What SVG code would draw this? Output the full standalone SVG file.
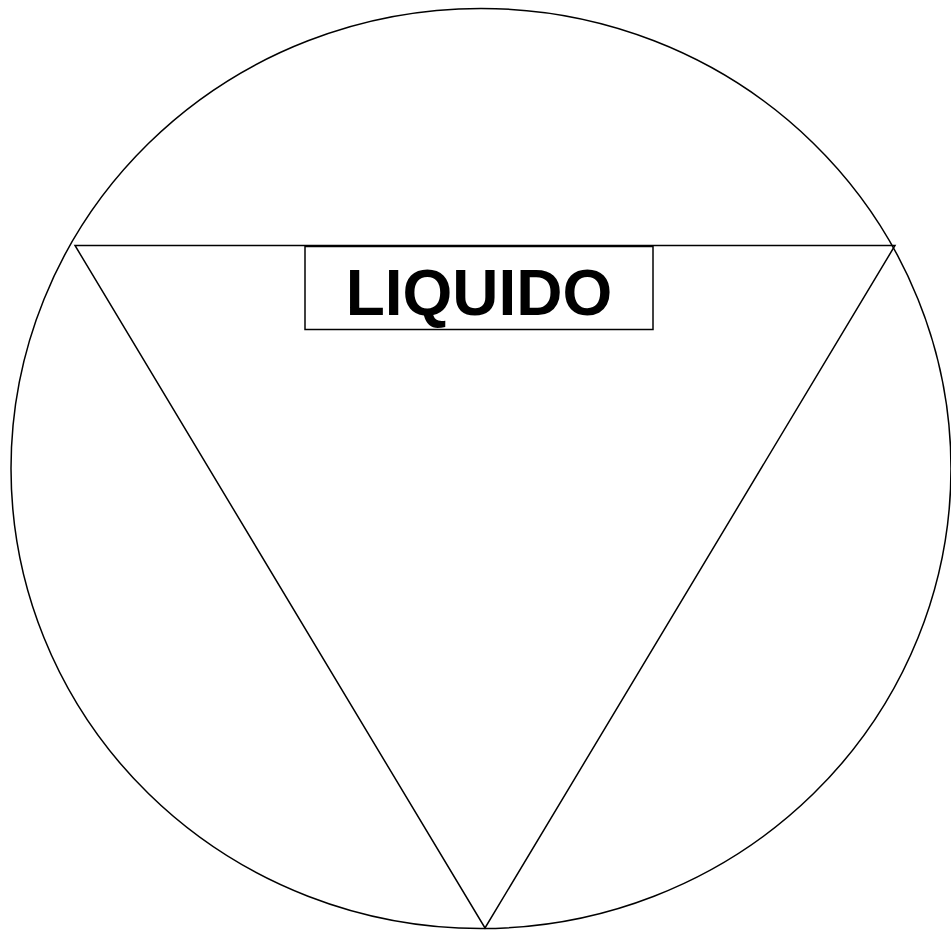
<svg xmlns="http://www.w3.org/2000/svg" width="951" height="931" viewBox="0 0 951 931">
<style>
.s{fill:none;stroke:#000;stroke-width:1.5}
.t{font-family:"Liberation Sans",Arial,sans-serif;font-weight:bold;font-size:64px;fill:#000}
</style>
<rect width="951" height="931" fill="#fff"/>
<g id="circle"><ellipse class="s" cx="481" cy="468.5" rx="470" ry="460"/></g>
<g id="triangle"><polygon class="s" points="75,245.5 895,245.5 485,928"/></g>
<g id="label">
<rect x="305" y="246.5" width="348" height="83" fill="#fff" stroke="#000" stroke-width="1.5"/>
<text class="t" x="479" y="315" text-anchor="middle">LIQUIDO</text>
</g>
</svg>
